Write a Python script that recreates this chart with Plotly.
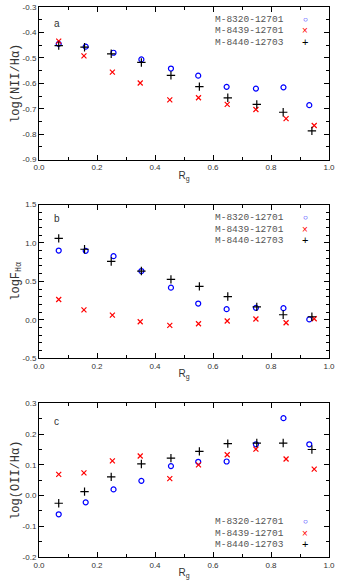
import plotly.graph_objects as go
from plotly.subplots import make_subplots

# ---- data ----
names = ["M-8320-12701", "M-8439-12701", "M-8440-12703"]

rg_8320 = [0.068, 0.161, 0.257, 0.353, 0.455, 0.549, 0.647, 0.748, 0.843, 0.932]
rg_8439 = [0.068, 0.155, 0.253, 0.349, 0.451, 0.550, 0.649, 0.748, 0.852, 0.949]
rg_8440 = [0.068, 0.157, 0.249, 0.353, 0.455, 0.553, 0.651, 0.751, 0.842, 0.941]

nii_8320 = [-0.445, -0.456, -0.480, -0.506, -0.542, -0.570, -0.614, -0.621, -0.616, -0.686]
nii_8439 = [-0.434, -0.492, -0.556, -0.599, -0.665, -0.657, -0.683, -0.703, -0.739, -0.766]
nii_8440 = [-0.452, -0.458, -0.484, -0.518, -0.569, -0.613, -0.657, -0.683, -0.714, -0.787]

fha_8320 = [0.901, 0.897, 0.828, 0.634, 0.418, 0.211, 0.138, 0.155, 0.151, 0.004]
fha_8439 = [0.263, 0.129, 0.060, -0.026, -0.073, -0.052, -0.017, 0.009, -0.039, 0.013]
fha_8440 = [1.060, 0.918, 0.759, 0.634, 0.526, 0.435, 0.302, 0.168, 0.065, 0.039]

oii_8320 = [-0.061, -0.022, 0.020, 0.048, 0.096, 0.110, 0.111, 0.167, 0.252, 0.167]
oii_8439 = [0.069, 0.074, 0.113, 0.129, 0.055, 0.100, 0.133, 0.151, 0.119, 0.086]
oii_8440 = [-0.025, 0.013, 0.061, 0.103, 0.122, 0.144, 0.169, 0.171, 0.171, 0.150]

x_ticks = [0.0, 0.2, 0.4, 0.6, 0.8, 1.0]
nii_ticks = [-0.9, -0.8, -0.7, -0.6, -0.5, -0.4, -0.3]
fha_ticks = [-0.5, 0.0, 0.5, 1.0, 1.5]
oii_ticks = [-0.2, -0.1, 0.0, 0.1, 0.2, 0.3]

xs = [rg_8320, rg_8439, rg_8440]
panels = [
    ([nii_8320, nii_8439, nii_8440], "log(NII/Hα)", nii_ticks, 0.05, "a", 0.89, [0.916, 0.843, 0.769]),
    ([fha_8320, fha_8439, fha_8440], "logF<sub>Hα</sub>", fha_ticks, 0.1, "b", 0.91, [0.914, 0.840, 0.767]),
    ([oii_8320, oii_8439, oii_8440], "log(OII/Hα)", oii_ticks, 0.05, "c", 0.88, [0.229, 0.155, 0.082]),
]

colors = ["#0000ff", "#ff0000", "#000000"]
symbols = ["circle-open", "x-thin-open", "cross-thin-open"]
sizes = [5, 5, 6]
legend_chars = ["○", "×", "+"]
legend_sizes = [8, 10, 11]

fig = make_subplots(rows=3, cols=1)
domains = [[0.7226, 1.0], [0.3616, 0.6408], [0.0, 0.2792]]

mono = "Liberation Mono"
sans = "Liberation Sans"

for i, (ys, ytitle, yt, mdt, letter, lety, ly) in enumerate(panels):
    r = i + 1
    for k in range(3):
        fig.add_trace(go.Scatter(
            x=xs[k], y=ys[k], mode="markers", name=names[k], showlegend=False,
            marker=dict(symbol=symbols[k], size=sizes[k], color=colors[k],
                        line=dict(width=1.2, color=colors[k]))), row=r, col=1)
    axis_common = dict(showline=True, linecolor="black", linewidth=1, mirror="allticks",
                       ticks="inside", ticklen=5, tickwidth=1, tickcolor="black",
                       showgrid=False, zeroline=False, tickmode="array",
                       ticklabeloverflow="allow",
                       tickfont=dict(family=sans, size=8, color="#333333"))
    fig.update_xaxes(range=[0, 1], tickvals=x_ticks, ticktext=[f"{v:.1f}" for v in x_ticks],
                     minor=dict(ticks="inside", ticklen=3, dtick=0.1, tick0=0, tickcolor="black", showgrid=False),
                     title=dict(text="R<sub>g</sub>", font=dict(family=sans, size=10, color="#333333"), standoff=0),
                     domain=[0, 1], row=r, col=1, **axis_common)
    fig.update_yaxes(range=[yt[0], yt[-1]], tickvals=yt, ticktext=[f"{v:.1f}" for v in yt],
                     minor=dict(ticks="inside", ticklen=3, dtick=mdt, tick0=yt[0], tickcolor="black", showgrid=False),
                     title=dict(text=ytitle, font=dict(family=mono, size=12, color="#333333"), standoff=0),
                     domain=domains[i], row=r, col=1, **axis_common)
    xref = "x domain" if r == 1 else f"x{r} domain"
    yref = "y domain" if r == 1 else f"y{r} domain"
    fig.add_annotation(text=letter, x=0.062, y=lety, xref=xref, yref=yref, showarrow=False,
                       xanchor="center", yanchor="middle", font=dict(family=sans, size=10, color="#333333"))
    for k in range(3):
        fig.add_annotation(text=names[k], x=0.852, y=ly[k], xref=xref, yref=yref, showarrow=False,
                           xanchor="right", yanchor="middle",
                           font=dict(family=mono, size=9.5, color="#555555"))
        fig.add_annotation(text=legend_chars[k], x=0.918, y=ly[k], xref=xref, yref=yref, showarrow=False,
                           xanchor="center", yanchor="middle",
                           font=dict(family=sans, size=legend_sizes[k], color=colors[k]))

fig.update_layout(width=338, height=586, margin=dict(l=39, r=6, t=3, b=29),
                  plot_bgcolor="white", paper_bgcolor="white", showlegend=False)

fig.write_html("out.html", config={"displayModeBar": False},
               post_script="document.body.style.margin='0';document.body.style.padding='0';")
